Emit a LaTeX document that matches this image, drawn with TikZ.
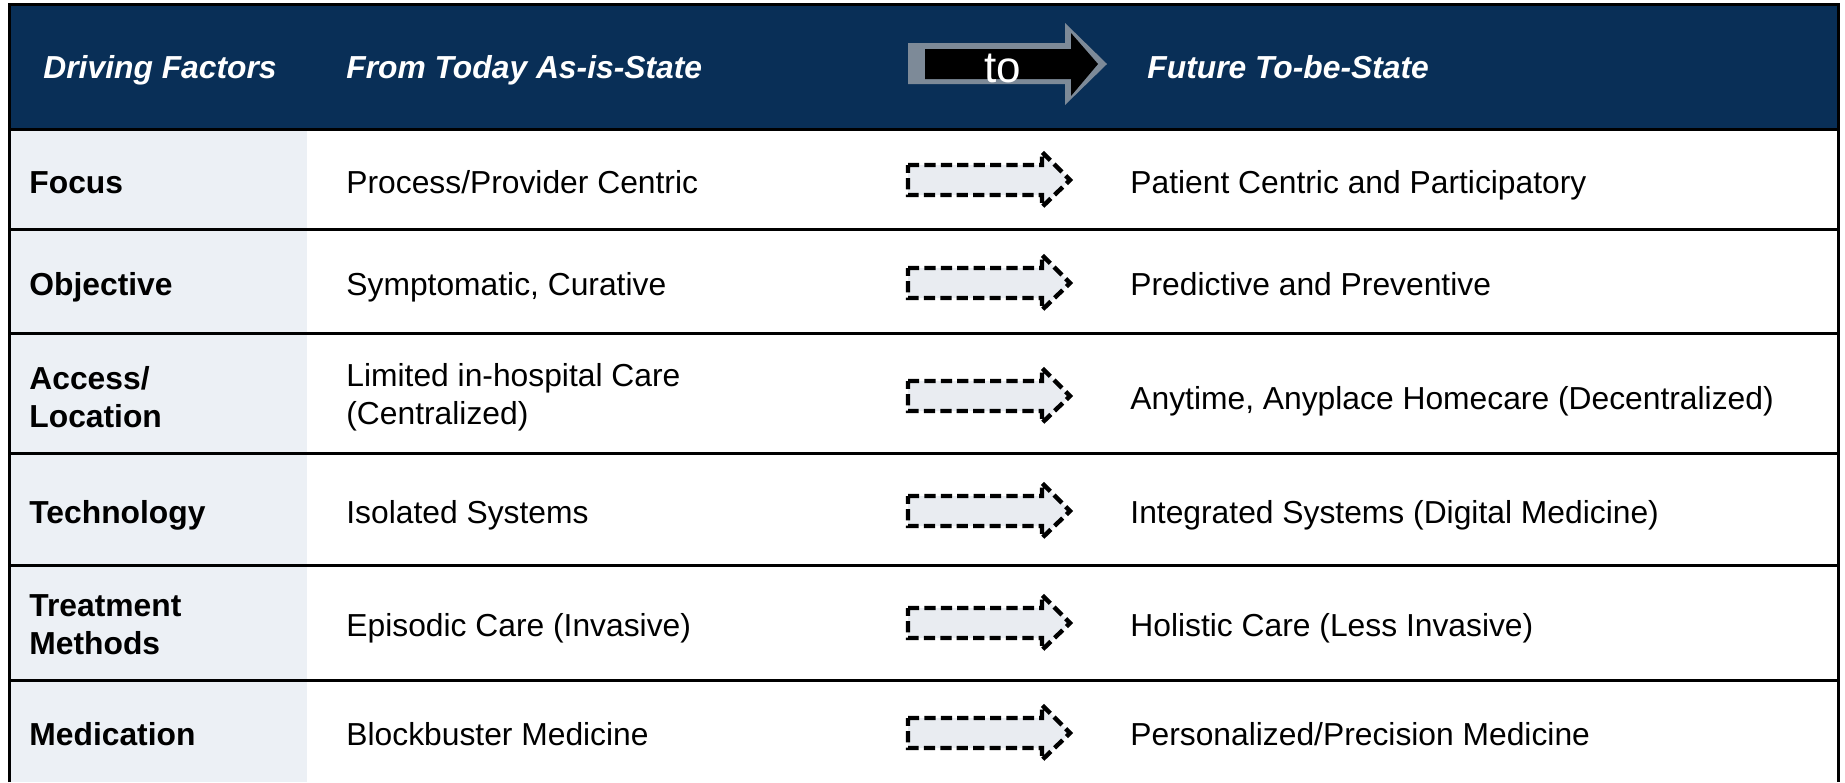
\documentclass[tikz,border=0pt]{standalone}
\usepackage{fontspec}
\setmainfont{Liberation Sans}
\definecolor{navy}{RGB}{9,47,87}
\definecolor{leftfill}{RGB}{236,240,245}
\definecolor{arrowfill}{RGB}{233,236,241}
\definecolor{arrowgray}{RGB}{125,138,152}
\begin{document}
\begin{tikzpicture}[x=0.5pt,y=-0.5pt,
  tline/.style={line width=1.5pt,black},
  hdr/.style={anchor=base west,inner sep=0pt,text=white,font=\fontsize{15.9}{19}\selectfont\bfseries\itshape},
  lbl/.style={anchor=base west,inner sep=0pt,font=\fontsize{15.9}{19}\selectfont\bfseries},
  lbltwo/.style={anchor=west,inner sep=0pt,align=left,font=\fontsize{15.9}{19}\selectfont\bfseries},
  cell/.style={anchor=base west,inner sep=0pt,font=\fontsize{15.9}{19}\selectfont},
  celltwo/.style={anchor=west,inner sep=0pt,align=left,font=\fontsize{15.9}{19}\selectfont},
  dasharrow/.pic={\draw[line width=2.2pt,dash pattern=on 5.6pt off 2.6pt,fill=arrowfill,line join=miter]
     (0,-15) -- (134,-15) -- (134,-28) -- (162,0) -- (134,27) -- (134,15) -- (0,15) -- cycle;}
]
\useasboundingbox (0,0) rectangle (1845,782);
% header and left column fills
\fill[navy] (9,4) rectangle (1838,129);
\fill[leftfill] (9,129) rectangle (307,782);
% table lines
\draw[tline] (9,782) -- (9,4) -- (1838,4) -- (1838,782);
\foreach \yy in {129,229,333,453,565,680} \draw[tline] (9,\yy) -- (1838,\yy);
% header arrow
\fill[arrowgray] (908,43) -- (1065,43) -- (1065,23) -- (1107,64) -- (1065,105) -- (1065,84) -- (908,84) -- cycle;
\fill[black] (925,49) -- (1071,49) -- (1071,33) -- (1098,64) -- (1071,96) -- (1071,79) -- (925,79) -- cycle;
\node[anchor=base,inner sep=0pt,text=white,font=\fontsize{22}{26}\selectfont] (to) at (1003,82) {to};
% header texts
\node[hdr] (h1) at (43,78) {Driving Factors};
\node[hdr] (h2) at (346,78) {From Today As-is-State};
\node[hdr] (h3) at (1147,78) {Future To-be-State};
% row labels
\node[lbl] (l1) at (29,193) {Focus};
\node[lbl] (l2) at (29,295) {Objective};
\node[lbltwo] (l3) at (29,397) {Access/\\Location};
\node[lbl] (l4) at (29,523) {Technology};
\node[lbltwo] (l5) at (29,625) {Treatment\\Methods};
\node[lbl] (l6) at (29,745) {Medication};
% from column
\node[cell] (f1) at (346,193) {Process/Provider Centric};
\node[cell] (f2) at (346,295) {Symptomatic, Curative};
\node[celltwo] (f3) at (346,397) {Limited in-hospital Care\\(Centralized)};
\node[cell] (f4) at (346,523) {Isolated Systems};
\node[cell] (f5) at (346,636) {Episodic Care (Invasive)};
\node[cell] (f6) at (346,745) {Blockbuster Medicine};
% arrows
\foreach \yy in {180,283,396,511,623,733} \pic at (908,\yy) {dasharrow};
% to column
\node[cell] (t1) at (1130,193) {Patient Centric and Participatory};
\node[cell] (t2) at (1130,295) {Predictive and Preventive};
\node[cell] (t3) at (1130,409) {Anytime, Anyplace Homecare (Decentralized)};
\node[cell] (t4) at (1130,523) {Integrated Systems (Digital Medicine)};
\node[cell] (t5) at (1130,636) {Holistic Care (Less Invasive)};
\node[cell] (t6) at (1130,745) {Personalized/Precision Medicine};
\end{tikzpicture}
\end{document}
